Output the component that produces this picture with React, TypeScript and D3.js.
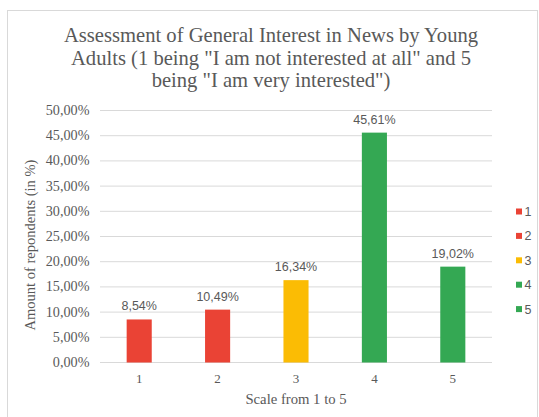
import React from "react";
import * as d3 from "d3";

const categories = ["1", "2", "3", "4", "5"];
const values = [8.54, 10.49, 16.34, 45.61, 19.02];
const colors = ["#EA4335", "#EA4335", "#FBBC04", "#34A853", "#34A853"];
const yTicks = [0, 5, 10, 15, 20, 25, 30, 35, 40, 45, 50];
const titleLines = [
  "Assessment of General Interest in News by Young",
  "Adults (1 being \"I am not interested at all\" and 5",
  "being \"I am very interested\")",
];

const fmt = (v: number) => v.toFixed(2).replace(".", ",") + "%";

export default function App() {
  const W = 539, H = 417;
  const left = 100, right = 492, top = 110.5, bottom = 362.5;
  const x = d3.scaleBand<string>().domain(categories).range([left, right]).paddingInner(0.68).paddingOuter(0.34);
  const y = d3.scaleLinear().domain([0, 50]).range([bottom, top]);
  const serif = "'Liberation Serif', 'Times New Roman', serif";
  const sans = "'Liberation Sans', Arial, sans-serif";
  return (
    <svg width={W} height={H} style={{ position: "absolute", left: 0, top: 0 }}>
      <rect x={0} y={0} width={W} height={H} fill="#fff" />
      <rect x={7.5} y={10.5} width={530} height={420} fill="#fff" stroke="#d9d9d9" strokeWidth={1} />
      {titleLines.map((t, i) => (
        <text key={i} x={271} y={42 + i * 22.5} textAnchor="middle" fontFamily={serif} fontSize={20.6} fill="#595959">
          {t}
        </text>
      ))}
      {yTicks.map((t) => (
        <g key={t}>
          <line x1={left} x2={right} y1={y(t)} y2={y(t)} stroke="#d9d9d9" strokeWidth={1} />
          <text x={89.5} y={y(t) + 4.5} textAnchor="end" fontFamily={serif} fontSize={14.2} fill="#595959">
            {fmt(t)}
          </text>
        </g>
      ))}
      <text
        transform={`translate(35,245) rotate(-90)`}
        textAnchor="middle"
        fontFamily={serif}
        fontSize={14.5}
        fill="#595959"
      >
        Amount of repondents (in %)
      </text>
      {categories.map((c, i) => (
        <g key={c}>
          <rect x={x(c)!} y={y(values[i])} width={x.bandwidth()} height={bottom - y(values[i])} fill={colors[i]} />
          <text x={x(c)! + x.bandwidth() / 2} y={y(values[i]) - 9} textAnchor="middle" fontFamily={sans} fontSize={12.5} fill="#595959">
            {fmt(values[i])}
          </text>
          <text x={x(c)! + x.bandwidth() / 2} y={382.5} textAnchor="middle" fontFamily={serif} fontSize={13} fill="#595959">
            {c}
          </text>
        </g>
      ))}
      <text x={(left + right) / 2} y={403.5} textAnchor="middle" fontFamily={serif} fontSize={14.7} fill="#595959">
        Scale from 1 to 5
      </text>
      {categories.map((c, i) => (
        <g key={"l" + c}>
          <rect x={516} y={211.5 + i * 24.4 - 3} width={6} height={6} fill={colors[i]} />
          <text x={524.5} y={211.5 + i * 24.4 + 4.5} fontFamily={sans} fontSize={12.5} fill="#595959">
            {c}
          </text>
        </g>
      ))}
    </svg>
  );
}
